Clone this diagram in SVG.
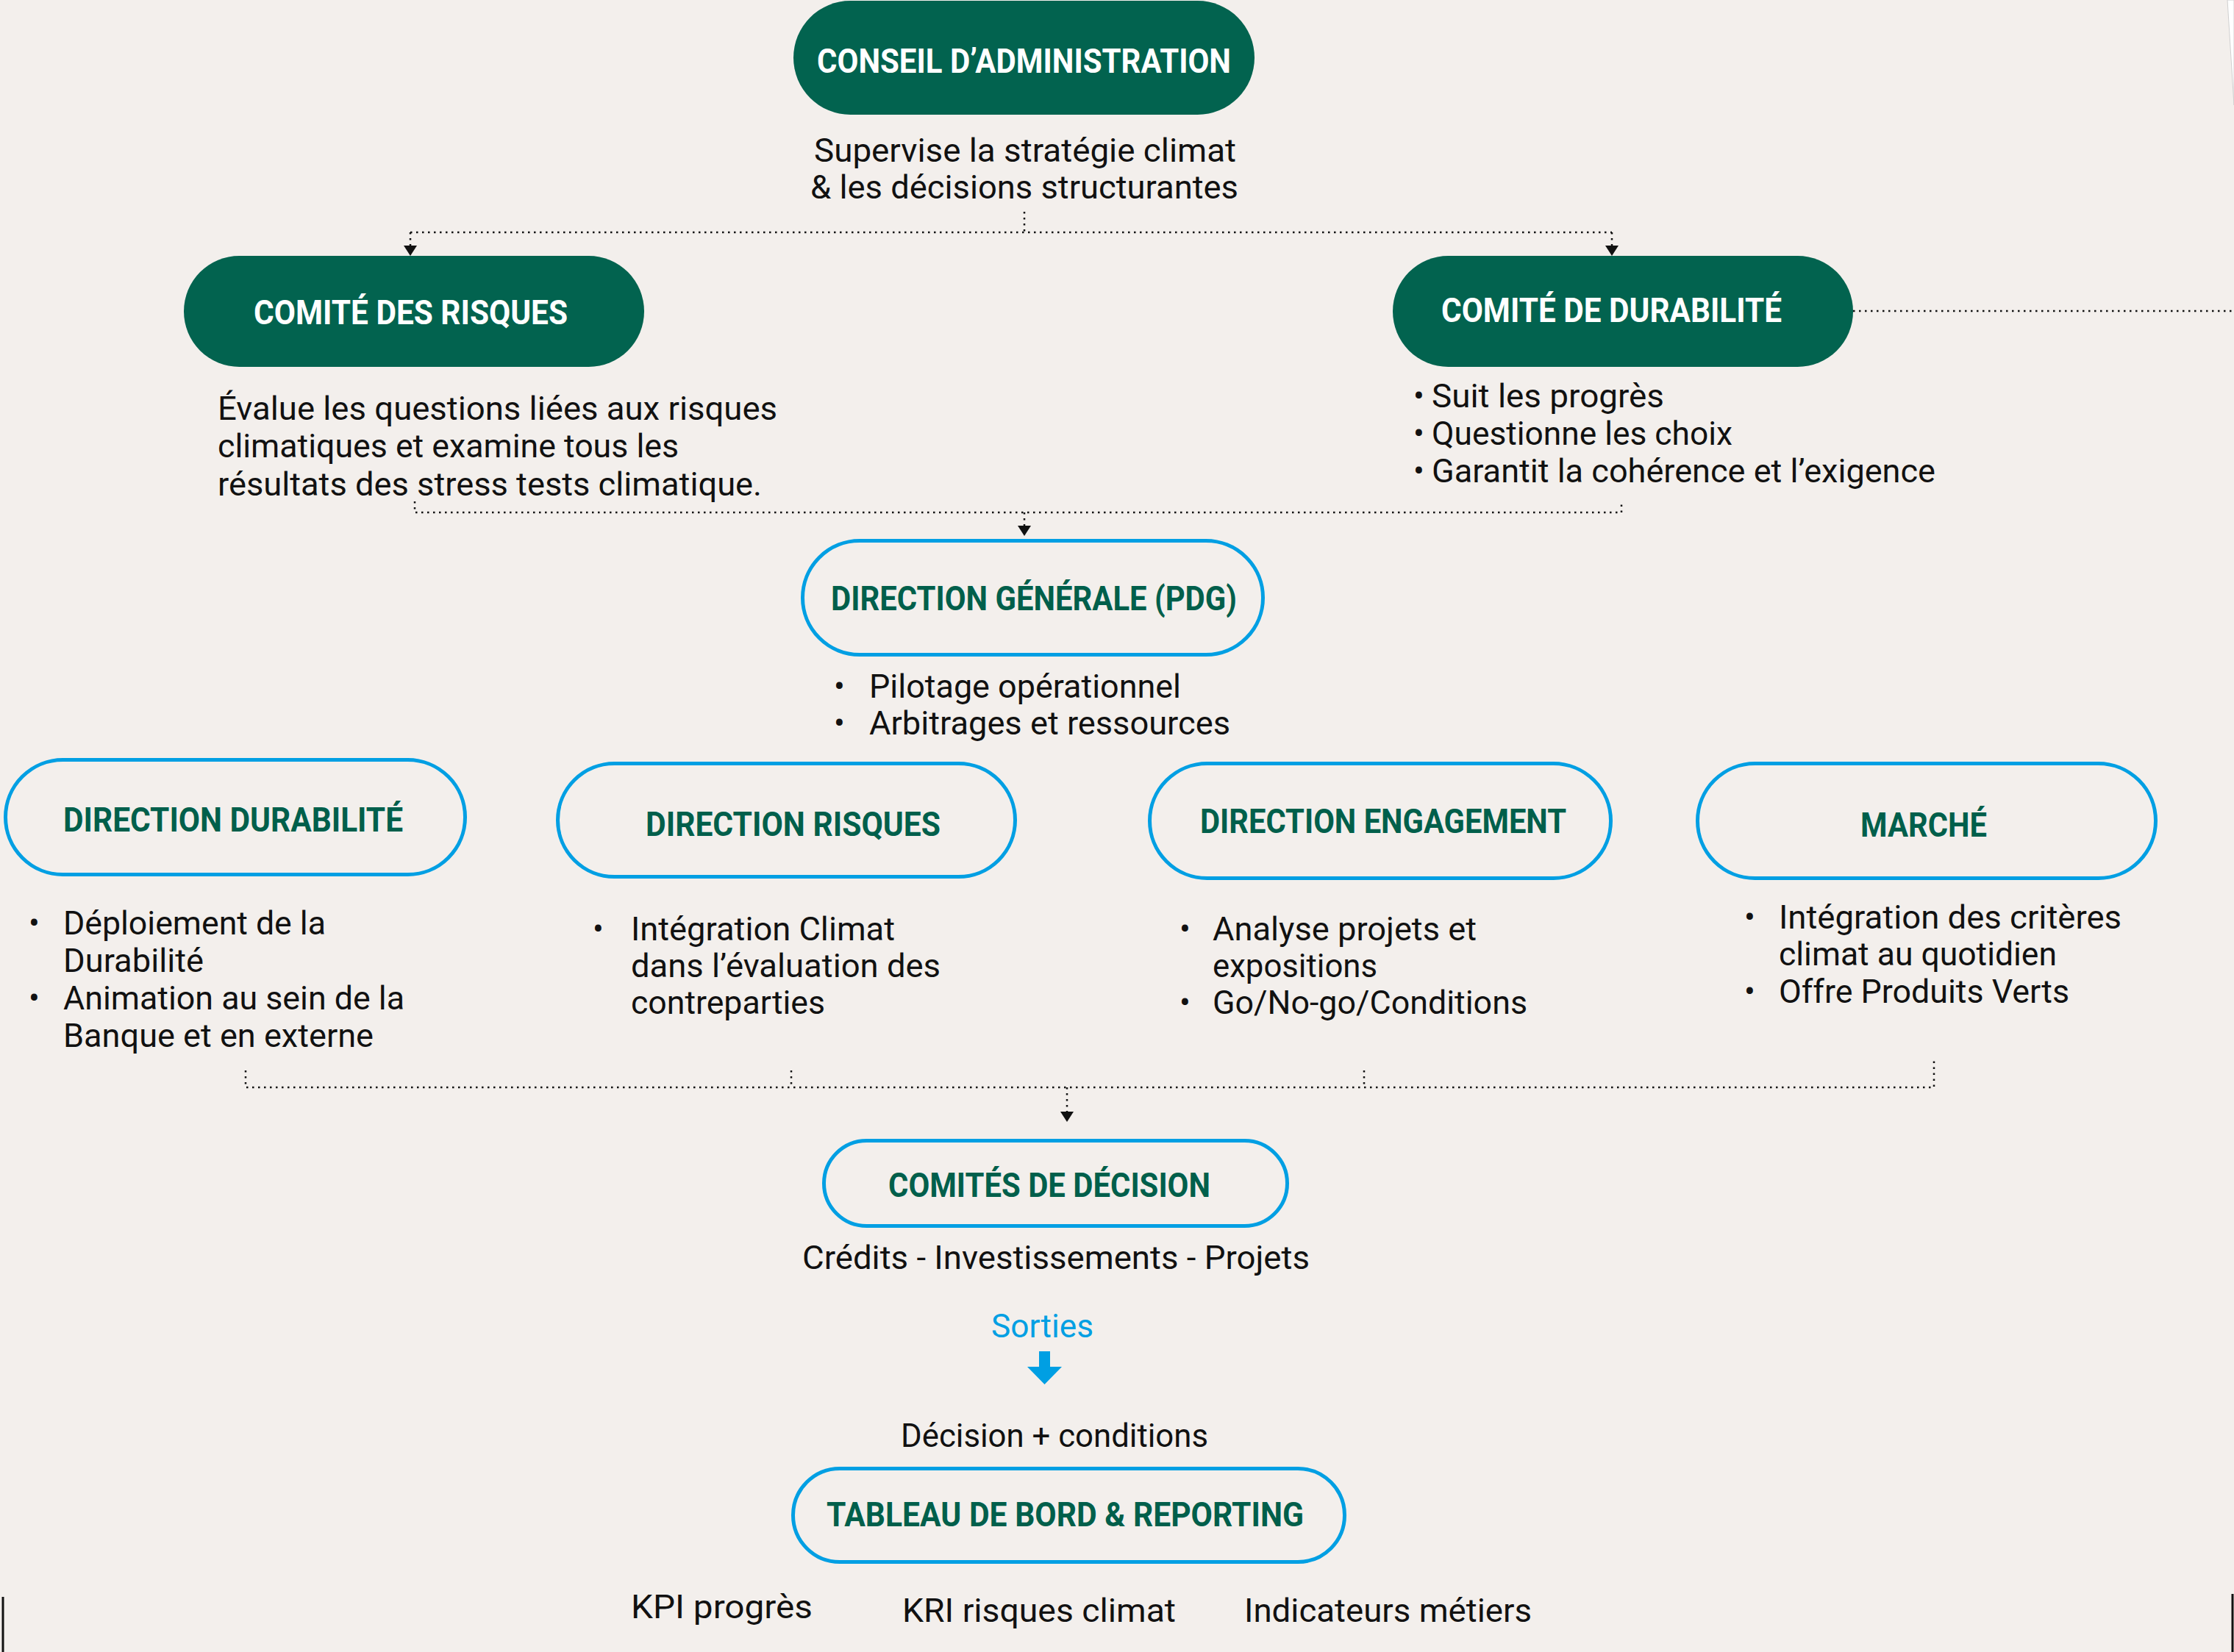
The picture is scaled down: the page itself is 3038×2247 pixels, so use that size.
<svg xmlns="http://www.w3.org/2000/svg" width="3038" height="2247" viewBox="0 0 3038 2247">
  <defs>
    <style>
      .bg { fill: #F3EFEC; }
      .pill-dark { fill: #02634F; }
      .pill-line { fill: none; stroke: #009FE3; stroke-width: 5; }
      .title { font-family: Roboto, "Liberation Sans", sans-serif; font-weight: 700; font-size: 46px; text-anchor: middle; }
      .t-white { fill: #FFFFFF; }
      .t-green { fill: #005F4B; }
      .body { font-family: Roboto, "Liberation Sans", sans-serif; font-weight: 400; font-size: 44px; fill: #111111; }
      .accent { fill: #009FE3; }
      .dots { fill: none; stroke: #111111; stroke-width: 2.5; stroke-dasharray: 2.5 5.5; }
      .frame { stroke: #111111; stroke-width: 3; }
    </style>
    <marker id="tip" markerUnits="userSpaceOnUse" markerWidth="14" markerHeight="18" refX="14" refY="9" orient="auto">
      <path d="M0,0 L14,9 L0,18 Z" fill="#111111"/>
    </marker>
  </defs>

  <rect class="bg" x="0" y="0" width="3038" height="2247"/>
  <!-- page edge bits -->
  <polygon points="3029,0 3038,0 3038,143" fill="#FFFFFF" stroke="#CFCFCF" stroke-width="1"/>
  <line class="frame" x1="4" y1="2172" x2="4" y2="2247"/>
  <line class="frame" x1="3036" y1="2168" x2="3036" y2="2247"/>

  <!-- connectors -->
  <g id="connectors">
    <path class="dots" d="M1393,288 V316"/>
    <path class="dots" d="M558,316 H2192"/>
    <path class="dots" d="M558,316 V348" marker-end="url(#tip)"/>
    <path class="dots" d="M2192,316 V348" marker-end="url(#tip)"/>
    <path class="dots" d="M2520,423 H3038"/>
    <path class="dots" d="M564,682 V697 H2205 V682"/>
    <path class="dots" d="M1393,697 V729" marker-end="url(#tip)"/>
    <path class="dots" d="M334,1456 V1479 H2630 V1440"/>
    <path class="dots" d="M1076,1456 V1479"/>
    <path class="dots" d="M1855,1456 V1479"/>
    <path class="dots" d="M1451,1479 V1526" marker-end="url(#tip)"/>
    <!-- outputs arrow -->
    <path d="M1413,1838 H1428 V1859 H1444 L1420.5,1883 L1397,1859 H1413 Z" fill="#009FE3"/>
  </g>

  <g id="conseil-administration">
    <rect class="pill-dark" x="1079" y="1" width="627" height="155" rx="77.5"/>
    <text class="title t-white" x="1392.5" y="99" textLength="563" lengthAdjust="spacingAndGlyphs">CONSEIL D’ADMINISTRATION</text>
    <text class="body" x="1107" y="220" textLength="574" lengthAdjust="spacingAndGlyphs">Supervise la stratégie climat</text>
    <text class="body" x="1102" y="270" textLength="582" lengthAdjust="spacingAndGlyphs">&amp; les décisions structurantes</text>
  </g>

  <g id="comite-risques">
    <rect class="pill-dark" x="250" y="348" width="626" height="151" rx="75.5"/>
    <text class="title t-white" x="558.5" y="441" textLength="427" lengthAdjust="spacingAndGlyphs">COMITÉ DES RISQUES</text>
    <text class="body" x="296" y="571" textLength="761" lengthAdjust="spacingAndGlyphs">Évalue les questions liées aux risques</text>
    <text class="body" x="296" y="622" textLength="627" lengthAdjust="spacingAndGlyphs">climatiques et examine tous les</text>
    <text class="body" x="296" y="674" textLength="740" lengthAdjust="spacingAndGlyphs">résultats des stress tests climatique.</text>
  </g>

  <g id="comite-durabilite">
    <rect class="pill-dark" x="1894" y="348" width="626" height="151" rx="75.5"/>
    <text class="title t-white" x="2191.5" y="438" textLength="463" lengthAdjust="spacingAndGlyphs">COMITÉ DE DURABILITÉ</text>
    <text class="body" x="1922" y="554">•</text>
    <text class="body" x="1947" y="554" textLength="316" lengthAdjust="spacingAndGlyphs">Suit les progrès</text>
    <text class="body" x="1922" y="605">•</text>
    <text class="body" x="1947" y="605" textLength="409" lengthAdjust="spacingAndGlyphs">Questionne les choix</text>
    <text class="body" x="1922" y="656">•</text>
    <text class="body" x="1947" y="656" textLength="685" lengthAdjust="spacingAndGlyphs">Garantit la cohérence et l’exigence</text>
  </g>

  <g id="direction-generale">
    <rect class="pill-line" x="1091.5" y="735.5" width="626" height="155" rx="77.5"/>
    <text class="title t-green" x="1406" y="830" textLength="552" lengthAdjust="spacingAndGlyphs">DIRECTION GÉNÉRALE (PDG)</text>
    <text class="body" x="1134" y="949">•</text>
    <text class="body" x="1182" y="949" textLength="424" lengthAdjust="spacingAndGlyphs">Pilotage opérationnel</text>
    <text class="body" x="1134" y="999">•</text>
    <text class="body" x="1182" y="999" textLength="491" lengthAdjust="spacingAndGlyphs">Arbitrages et ressources</text>
  </g>

  <g id="direction-durabilite">
    <rect class="pill-line" x="7.5" y="1033.5" width="625" height="156" rx="78"/>
    <text class="title t-green" x="317" y="1131" textLength="462" lengthAdjust="spacingAndGlyphs">DIRECTION DURABILITÉ</text>
    <text class="body" x="39" y="1271">•</text>
    <text class="body" x="86" y="1271" textLength="357" lengthAdjust="spacingAndGlyphs">Déploiement de la</text>
    <text class="body" x="86" y="1322" textLength="191" lengthAdjust="spacingAndGlyphs">Durabilité</text>
    <text class="body" x="39" y="1373">•</text>
    <text class="body" x="86" y="1373" textLength="464" lengthAdjust="spacingAndGlyphs">Animation au sein de la</text>
    <text class="body" x="86" y="1424" textLength="422" lengthAdjust="spacingAndGlyphs">Banque et en externe</text>
  </g>

  <g id="direction-risques">
    <rect class="pill-line" x="758.5" y="1038.5" width="622" height="154" rx="77"/>
    <text class="title t-green" x="1078.5" y="1137" textLength="401" lengthAdjust="spacingAndGlyphs">DIRECTION RISQUES</text>
    <text class="body" x="806" y="1279">•</text>
    <text class="body" x="858" y="1279" textLength="359" lengthAdjust="spacingAndGlyphs">Intégration Climat</text>
    <text class="body" x="858" y="1329" textLength="421" lengthAdjust="spacingAndGlyphs">dans l’évaluation des</text>
    <text class="body" x="858" y="1379" textLength="264" lengthAdjust="spacingAndGlyphs">contreparties</text>
  </g>

  <g id="direction-engagement">
    <rect class="pill-line" x="1563.5" y="1038.5" width="627" height="156" rx="78"/>
    <text class="title t-green" x="1881" y="1133" textLength="498" lengthAdjust="spacingAndGlyphs">DIRECTION ENGAGEMENT</text>
    <text class="body" x="1604" y="1279">•</text>
    <text class="body" x="1649" y="1279" textLength="359" lengthAdjust="spacingAndGlyphs">Analyse projets et</text>
    <text class="body" x="1649" y="1329" textLength="224" lengthAdjust="spacingAndGlyphs">expositions</text>
    <text class="body" x="1604" y="1379">•</text>
    <text class="body" x="1649" y="1379" textLength="428" lengthAdjust="spacingAndGlyphs">Go/No-go/Conditions</text>
  </g>

  <g id="marche">
    <rect class="pill-line" x="2308.5" y="1038.5" width="623" height="156" rx="78"/>
    <text class="title t-green" x="2616" y="1138" textLength="172" lengthAdjust="spacingAndGlyphs">MARCHÉ</text>
    <text class="body" x="2372" y="1263">•</text>
    <text class="body" x="2419" y="1263" textLength="466" lengthAdjust="spacingAndGlyphs">Intégration des critères</text>
    <text class="body" x="2419" y="1313" textLength="378" lengthAdjust="spacingAndGlyphs">climat au quotidien</text>
    <text class="body" x="2372" y="1364">•</text>
    <text class="body" x="2419" y="1364" textLength="395" lengthAdjust="spacingAndGlyphs">Offre Produits Verts</text>
  </g>

  <g id="comites-decision">
    <rect class="pill-line" x="1120.5" y="1551.5" width="630" height="116" rx="58"/>
    <text class="title t-green" x="1427" y="1628" textLength="438" lengthAdjust="spacingAndGlyphs">COMITÉS DE DÉCISION</text>
    <text class="body" x="1091" y="1726" textLength="690" lengthAdjust="spacingAndGlyphs">Crédits - Investissements - Projets</text>
    <text class="body accent" x="1348" y="1819" textLength="139" lengthAdjust="spacingAndGlyphs">Sorties</text>
    <text class="body" x="1225" y="1968" textLength="418" lengthAdjust="spacingAndGlyphs">Décision + conditions</text>
  </g>

  <g id="tableau-de-bord">
    <rect class="pill-line" x="1078.5" y="1997.5" width="750" height="127" rx="63.5"/>
    <text class="title t-green" x="1448.5" y="2076" textLength="649" lengthAdjust="spacingAndGlyphs">TABLEAU DE BORD &amp; REPORTING</text>
    <text class="body" x="858" y="2201" textLength="247" lengthAdjust="spacingAndGlyphs">KPI progrès</text>
    <text class="body" x="1227" y="2206" textLength="372" lengthAdjust="spacingAndGlyphs">KRI risques climat</text>
    <text class="body" x="1692" y="2206" textLength="391" lengthAdjust="spacingAndGlyphs">Indicateurs métiers</text>
  </g>
</svg>
